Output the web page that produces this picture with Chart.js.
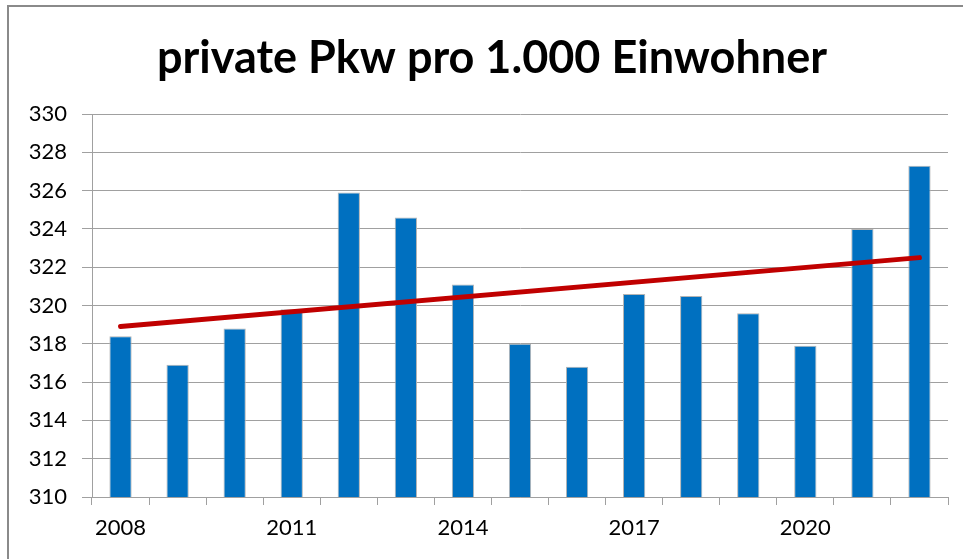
<!DOCTYPE html>
<html>
<head>
<meta charset="utf-8">
<script src="https://cdn.jsdelivr.net/npm/chart.js@4/dist/chart.umd.min.js"></script>
<style>
  html, body { margin: 0; padding: 0; background: #fff; }
  #wrap { position: relative; width: 963px; height: 559px; }
  #frame {
    position: absolute; left: 7px; top: 5px; width: 970px; height: 570px;
    border-top: 2px solid #8a8a8a; border-left: 2px solid #8a8a8a;
    pointer-events: none;
  }
  canvas { position: absolute; left: 0; top: 0; }
</style>
</head>
<body>
<div id="wrap">
  <div id="frame"></div>
  <canvas id="chart" width="963" height="559"></canvas>
</div>
<script>
// Jahre und Werte
const years = ['2008', '2009', '2010', '2011', '2012', '2013', '2014', '2015',
               '2016', '2017', '2018', '2019', '2020', '2021', '2022'];
const cars = [318.4, 316.9, 318.8, 319.8, 325.9, 324.6, 321.1, 318.0,
              316.8, 320.6, 320.5, 319.6, 317.9, 324.0, 327.3];
// Trendlinie: nur Anfangs- und Endpunkt
const trend = [318.9, null, null, null, null, null, null, null,
               null, null, null, null, null, null, 322.5];
const yTicks = [310, 312, 314, 316, 318, 320, 322, 324, 326, 328, 330];

const fontFamily = 'Lato, "Open Sans", sans-serif';

// Titel etwas nach rechts schieben, wie im Original
const shiftTitle = {
  id: 'shiftTitle',
  afterLayout(chart) {
    if (chart.titleBlock) chart.titleBlock.left += 36;
  }
};

new Chart(document.getElementById('chart'), {
  data: {
    labels: years,
    datasets: [
      {
        type: 'line',
        data: trend,
        borderColor: '#C00000',
        borderWidth: 5,
        borderCapStyle: 'round',
        pointRadius: 0,
        spanGaps: true,
        order: 0
      },
      {
        type: 'bar',
        data: cars,
        backgroundColor: '#0070C0',
        borderColor: '#b4b4b4',
        borderWidth: 1,
        categoryPercentage: 1,
        barPercentage: 0.39,
        order: 1
      }
    ]
  },
  plugins: [shiftTitle],
  options: {
    responsive: false,
    animation: false,
    layout: { padding: { left: 0, right: 15, top: 0, bottom: 0 } },
    plugins: {
      legend: { display: false },
      tooltip: { enabled: false },
      title: {
        display: true,
        text: 'private Pkw pro 1.000 Einwohner',
        color: '#000',
        font: { family: fontFamily, size: 45, weight: 'bold', lineHeight: 1.2 },
        padding: { top: 31, bottom: 29 }
      }
    },
    scales: {
      x: {
        offset: true,
        grid: {
          offset: true,
          drawOnChartArea: false,
          drawTicks: true,
          tickLength: 8,
          color: '#a0a0a0'
        },
        border: { color: '#a0a0a0', width: 1 },
        ticks: {
          autoSkip: false,
          maxRotation: 0,
          padding: 10,
          color: '#000',
          font: { family: fontFamily, size: 22 },
          callback: function(value, index) {
            return index % 3 === 0 ? years[index] : '';
          }
        },
        afterFit: function(scale) { scale.height = 62; }
      },
      y: {
        min: 310,
        max: 330,
        afterBuildTicks: function(scale) {
          scale.ticks = yTicks.map(v => ({ value: v }));
        },
        grid: {
          color: '#a0a0a0',
          drawTicks: true,
          tickLength: 10
        },
        border: { color: '#a0a0a0', width: 1 },
        ticks: {
          padding: 15,
          color: '#000',
          font: { family: fontFamily, size: 22 }
        },
        afterFit: function(scale) { scale.width = 92; }
      }
    }
  }
});
</script>
</body>
</html>
